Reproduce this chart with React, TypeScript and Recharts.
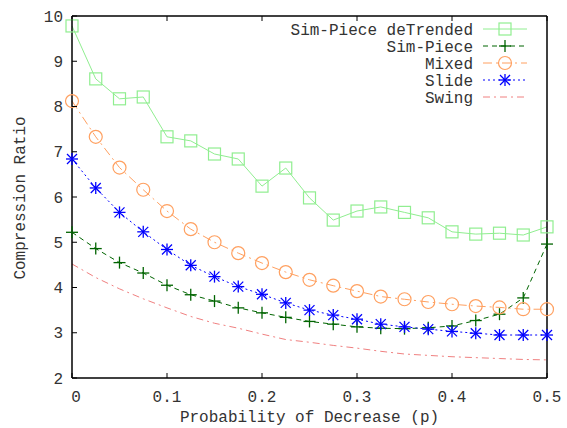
import React from 'react';
import { LineChart, Line, XAxis, YAxis, Legend } from 'recharts';

const probs = [0, 0.025, 0.05, 0.075, 0.1, 0.125, 0.15, 0.175, 0.2, 0.225, 0.25, 0.275, 0.3, 0.325, 0.35, 0.375, 0.4, 0.425, 0.45, 0.475, 0.5];

const simPieceDetrended = [9.78, 8.61, 8.17, 8.21, 7.33, 7.24, 6.95, 6.84, 6.24, 6.64, 5.98, 5.49, 5.69, 5.78, 5.66, 5.54, 5.23, 5.18, 5.2, 5.16, 5.34];
const simPiece = [5.22, 4.86, 4.55, 4.32, 4.05, 3.84, 3.7, 3.55, 3.44, 3.34, 3.25, 3.19, 3.13, 3.1, 3.09, 3.11, 3.15, 3.27, 3.41, 3.77, 4.96];
const mixed = [8.12, 7.33, 6.65, 6.16, 5.69, 5.29, 5.0, 4.76, 4.54, 4.34, 4.17, 4.04, 3.92, 3.8, 3.74, 3.68, 3.63, 3.59, 3.56, 3.52, 3.52];
const slide = [6.84, 6.2, 5.66, 5.23, 4.84, 4.49, 4.24, 4.02, 3.85, 3.66, 3.5, 3.39, 3.3, 3.19, 3.13, 3.08, 3.03, 2.99, 2.95, 2.95, 2.95];
const swing = [4.52, 4.22, 3.97, 3.75, 3.55, 3.36, 3.21, 3.1, 2.97, 2.85, 2.79, 2.72, 2.66, 2.59, 2.53, 2.5, 2.47, 2.45, 2.43, 2.41, 2.4];

const xTicks = [0, 0.1, 0.2, 0.3, 0.4, 0.5];
const yTicks = [2, 3, 4, 5, 6, 7, 8, 9, 10];

const FONT = '"Liberation Mono", "DejaVu Sans Mono", monospace';

type Kind = 'square' | 'plus' | 'circle' | 'star' | 'none';

const seriesList: { key: string; name: string; color: string; dash?: string; kind: Kind }[] = [
  { key: 'detrended', name: 'Sim-Piece deTrended', color: '#90ee90', kind: 'square' },
  { key: 'simpiece', name: 'Sim-Piece', color: '#006400', dash: '5 4', kind: 'plus' },
  { key: 'mixed', name: 'Mixed', color: '#ffa060', dash: '9 4 2 4', kind: 'circle' },
  { key: 'slide', name: 'Slide', color: '#0000ff', dash: '2 3', kind: 'star' },
  { key: 'swing', name: 'Swing', color: '#f08080', dash: '7 4 2 4', kind: 'none' },
];

const data = probs.map((p, i) => ({
  p,
  detrended: simPieceDetrended[i],
  simpiece: simPiece[i],
  mixed: mixed[i],
  slide: slide[i],
  swing: swing[i],
}));

const Marker = ({ kind, cx, cy, color }: { kind: Kind; cx: number; cy: number; color: string }) => {
  if (kind === 'square') {
    return <rect x={cx - 6} y={cy - 6} width={12} height={12} fill="none" stroke={color} strokeWidth={1.2} />;
  }
  if (kind === 'circle') {
    return <circle cx={cx} cy={cy} r={6.5} fill="none" stroke={color} strokeWidth={1.2} />;
  }
  if (kind === 'plus') {
    return (
      <g stroke={color} strokeWidth={1.3}>
        <line x1={cx - 6} y1={cy} x2={cx + 6} y2={cy} />
        <line x1={cx} y1={cy - 6} x2={cx} y2={cy + 6} />
      </g>
    );
  }
  if (kind === 'star') {
    return (
      <g stroke={color} strokeWidth={1.3}>
        <line x1={cx - 6} y1={cy} x2={cx + 6} y2={cy} />
        <line x1={cx} y1={cy - 6} x2={cx} y2={cy + 6} />
        <line x1={cx - 5} y1={cy - 5} x2={cx + 5} y2={cy + 5} />
        <line x1={cx - 5} y1={cy + 5} x2={cx + 5} y2={cy - 5} />
      </g>
    );
  }
  return <g />;
};

// axes are 1px wide/high so recharts still draws them; ticks point inwards like gnuplot
const BottomTick = (props: any) => {
  const { x, y, payload } = props;
  const shift = payload.value === 0 ? 4 : 0;
  return (
    <g>
      <line x1={x} y1={y} x2={x} y2={y - 5} stroke="#000" strokeWidth={1} />
      <text x={x + shift} y={y + 24} textAnchor="middle" fontFamily={FONT} fontSize={16} fill="#333">
        {payload.value}
      </text>
    </g>
  );
};

const TopTick = (props: any) => {
  const { x, y } = props;
  return <line x1={x} y1={y} x2={x} y2={y + 5} stroke="#000" strokeWidth={1} />;
};

const LeftTick = (props: any) => {
  const { x, y, payload } = props;
  return (
    <g>
      <line x1={x} y1={y} x2={x + 5} y2={y} stroke="#000" strokeWidth={1} />
      <text x={x - 9} y={y} dy="0.35em" textAnchor="end" fontFamily={FONT} fontSize={16} fill="#333">
        {payload.value}
      </text>
    </g>
  );
};

const RightTick = (props: any) => {
  const { x, y } = props;
  return <line x1={x} y1={y} x2={x - 5} y2={y} stroke="#000" strokeWidth={1} />;
};

const LegendBox = () => (
  <svg width={290} height={90} style={{ overflow: 'visible' }}>
    {seriesList.map((s, i) => {
      const cy = 9 + i * 17;
      return (
        <g key={s.key}>
          <text x={213} y={cy} dy="0.35em" textAnchor="end" fontFamily={FONT} fontSize={16} fill="#333">
            {s.name}
          </text>
          <line x1={223} y1={cy} x2={267} y2={cy} stroke={s.color} strokeWidth={1} strokeDasharray={s.dash} />
          <Marker kind={s.kind} cx={245} cy={cy} color={s.color} />
        </g>
      );
    })}
  </svg>
);

export default function App() {
  return (
    <div style={{ width: 567, height: 428, background: '#fff' }}>
      <style>{'body{margin:0}'}</style>
      <LineChart width={567} height={428} data={data} margin={{ top: 15, right: 19, bottom: 49, left: 71 }}>
        <XAxis
          dataKey="p"
          type="number"
          domain={[0, 0.5]}
          ticks={xTicks}
          height={1}
          tickSize={0}
          tickMargin={0}
          tickLine={false}
          tick={<BottomTick />}
          axisLine={{ stroke: '#000', strokeWidth: 1.5 }}
          label={{ value: 'Probability of Decrease (p)', position: 'bottom', offset: 32, fontFamily: FONT, fontSize: 16, fill: '#333' }}
        />
        <XAxis
          xAxisId="top"
          orientation="top"
          dataKey="p"
          type="number"
          domain={[0, 0.5]}
          ticks={xTicks}
          height={1}
          tickSize={0}
          tickMargin={0}
          tickLine={false}
          tick={<TopTick />}
          axisLine={{ stroke: '#000', strokeWidth: 1.5 }}
        />
        <YAxis
          type="number"
          domain={[2, 10]}
          ticks={yTicks}
          width={1}
          tickSize={0}
          tickMargin={0}
          tickLine={false}
          tick={<LeftTick />}
          axisLine={{ stroke: '#000', strokeWidth: 1.5 }}
          label={() => (
            <text transform="translate(19,198) rotate(-90)" textAnchor="middle" dy="0.35em" fontFamily={FONT} fontSize={16} fill="#333">
              Compression Ratio
            </text>
          )}
        />
        <YAxis
          yAxisId="right"
          orientation="right"
          type="number"
          domain={[2, 10]}
          ticks={yTicks}
          width={1}
          tickSize={0}
          tickMargin={0}
          tickLine={false}
          tick={<RightTick />}
          axisLine={{ stroke: '#000', strokeWidth: 1.5 }}
        />
        <Legend
          layout="horizontal"
          verticalAlign="middle"
          align="center"
          wrapperStyle={{ top: 20, left: 260, width: 290, height: 90 }}
          content={() => <LegendBox />}
        />
        {seriesList.map((s) => (
          <Line
            key={s.key}
            dataKey={s.key}
            name={s.name}
            stroke={s.color}
            strokeWidth={1}
            strokeDasharray={s.dash}
            isAnimationActive={false}
            dot={(p: any) => <Marker key={`${s.key}-${p.index}`} kind={s.kind} cx={p.cx} cy={p.cy} color={s.color} />}
            activeDot={false}
          />
        ))}
      </LineChart>
    </div>
  );
}
